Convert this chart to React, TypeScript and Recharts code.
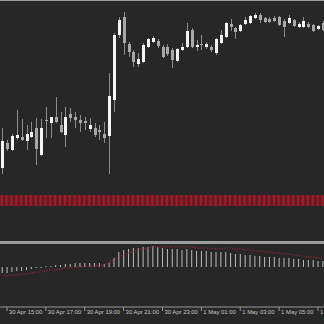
import { Bar, BarChart, ComposedChart, Line, XAxis, YAxis } from "recharts";

// 15-minute candles, 30 Apr 14:45 .. 1 May 07:15 (price in points)
const opens = [
  32, 57, 50, 62, 63, 59, 63, 72, 45, 80, 77, 83, 75, 65, 86, 83, 80, 79, 71, 72, 70, 66,
  64, 100, 165, 183, 156, 148, 136, 138, 153, 158, 159, 153, 153, 150, 139, 150, 153, 170,
  153, 156, 153, 153, 147, 157, 163, 176, 172, 169, 176, 177, 182, 185, 182, 181, 182, 183,
  179, 177, 180, 173, 173, 176, 175, 171, 177,
];
const highs = [
  72, 60, 66, 90, 81, 75, 78, 82, 81, 93, 83, 103, 88, 93, 92, 88, 85, 83, 82, 77, 75, 78,
  127, 167, 183, 188, 158, 150, 147, 157, 162, 164, 161, 155, 156, 152, 152, 157, 177, 172,
  160, 165, 158, 155, 162, 170, 178, 181, 173, 176, 183, 185, 187, 187, 183, 183, 184, 184,
  181, 185, 181, 178, 183, 178, 176, 175, 179,
];
const lows = [
  26, 49, 49, 60, 59, 50, 62, 35, 44, 62, 62, 77, 67, 53, 78, 72, 68, 70, 68, 63, 60, 57,
  26, 88, 162, 145, 143, 133, 133, 137, 152, 157, 152, 142, 144, 132, 138, 149, 152, 152,
  149, 150, 151, 148, 145, 156, 162, 169, 161, 168, 175, 176, 181, 177, 177, 177, 178, 174,
  163, 176, 173, 172, 172, 172, 168, 170, 169,
];
const closes = [
  59, 51, 64, 65, 60, 66, 68, 51, 72, 79, 83, 78, 68, 83, 82, 80, 77, 77, 75, 65, 68, 62,
  104, 165, 180, 157, 148, 138, 141, 155, 161, 162, 154, 143, 146, 140, 151, 153, 169, 153,
  155, 155, 156, 150, 161, 165, 177, 173, 168, 175, 180, 184, 185, 180, 178, 178, 179, 175,
  173, 182, 174, 176, 179, 173, 169, 174, 170,
];

// oscillator pane
const histogram = [
  -6, -6, -5, -4, -4, -3, -2, -1, -1, 1, 1, 2, 2, 3, 3, 4, 4, 4, 4, 4, 4, 3,
  4, 9, 15, 17, 18, 19, 19, 20, 20, 21, 20, 19, 18, 18, 18, 17, 18, 17,
  16, 16, 16, 15, 15, 15, 15, 14, 13, 13, 12, 12, 11, 11, 10, 10, 10, 9,
  9, 9, 8, 8, 7, 7, 7, 6, 6,
];
const signal = [
  -9, -9, -8, -8, -7, -7, -6, -5, -5, -4, -3, -3, -2, -1, -1, 0, 0, 1, 1, 1, 2, 2,
  5, 7, 10, 12, 14, 16, 17, 18, 19, 20, 20, 20, 20, 20, 20, 20, 20, 20,
  19, 19, 19, 19, 18, 18, 19, 19, 18, 18, 17, 17, 16, 16, 15, 15, 14, 14,
  13, 13, 12, 11, 11, 10, 10, 9, 9,
];

// red strip under the price pane
const band = [
  1, 1, 1, 1, 1, 1, 1, 1, 1, 1, 1, 1, 1, 1, 1, 1, 1, 1, 1, 1, 1, 1,
  1, 1, 1, 1, 1, 1, 1, 1, 1, 1, 1, 1, 1, 1, 1, 1, 1, 1, 1, 1, 1, 1,
  1, 1, 1, 1, 1, 1, 1, 1, 1, 1, 1, 1, 1, 1, 1, 1, 1, 1, 1, 1, 1, 1, 1,
];

const tickIndex = [1, 9, 17, 25, 33, 41, 49, 57, 65];
const tickLabels = [
  "30 Apr 15:00",
  "30 Apr 17:00",
  "30 Apr 19:00",
  "30 Apr 21:00",
  "30 Apr 23:00",
  "1 May 01:00",
  "1 May 03:00",
  "1 May 05:00",
  "1 May 07:00",
];

const W = 324;
const X_DOMAIN: [number, number] = [-0.44, 66.24];
const BG = "#272727";

const rows = opens.map((open, i) => ({
  i,
  open,
  high: highs[i],
  low: lows[i],
  close: closes[i],
  hist: histogram[i],
  signal: signal[i],
  band: band[i],
}));

function Candle(props: any) {
  const { x, y, width, height, payload } = props;
  const { open, close, high, low } = payload;
  const unit = height / (high - low);
  const cx = Math.round(x + width / 2) + 0.5;
  const top = y + (high - Math.max(open, close)) * unit;
  const bodyH = Math.max(1, Math.abs(open - close) * unit);
  const bull = close >= open;
  return (
    <g>
      <line x1={cx} x2={cx} y1={y} y2={y + height} stroke="#8c8c8c" />
      <rect x={cx - 1.5} y={top} width={3} height={bodyH} fill={bull ? "#f4f4f4" : "#a8a8a8"} />
    </g>
  );
}

function TimeTick(props: any) {
  const { x, y, payload } = props;
  const label = tickLabels[tickIndex.indexOf(payload.value)];
  return (
    <text x={x + 2} y={y + 3} fontSize={5.9} fill="#c6c6c6" fontFamily="Liberation Sans, Arial, sans-serif">
      {label}
    </text>
  );
}

const noMargin = { top: 0, right: 0, bottom: 0, left: 0 };

export default function App() {
  return (
    <div style={{ position: "absolute", left: 0, top: 0, width: W, height: 324, background: BG, overflow: "hidden" }}>
      <div style={{ position: "absolute", left: 0, top: 0, width: W, height: 1, background: "#9a9a9a" }} />

      <div style={{ position: "absolute", left: 0, top: 0 }}>
        <ComposedChart width={W} height={195} data={rows} margin={noMargin}>
          <XAxis type="number" dataKey="i" domain={X_DOMAIN} hide allowDataOverflow />
          <YAxis domain={[5, 200]} hide allowDataOverflow />
          <Bar
            dataKey={(d: any) => [d.low, d.high]}
            barSize={3}
            shape={<Candle />}
            isAnimationActive={false}
          />
        </ComposedChart>
      </div>

      <div style={{ position: "absolute", left: 0, top: 195, width: W, height: 11, background: "#661a24" }}>
        <BarChart width={W} height={11} data={rows} margin={noMargin}>
          <XAxis type="number" dataKey="i" domain={X_DOMAIN} hide allowDataOverflow />
          <YAxis domain={[0, 1]} hide />
          <Bar dataKey="band" barSize={2} fill="#9e1e2c" isAnimationActive={false} />
        </BarChart>
      </div>

      <div style={{ position: "absolute", left: 0, top: 241, width: W, height: 3, background: "#9c9c9c" }} />

      <div style={{ position: "absolute", left: 0, top: 244 }}>
        <ComposedChart width={W} height={80} data={rows} margin={noMargin}>
          <XAxis
            type="number"
            dataKey="i"
            domain={X_DOMAIN}
            ticks={tickIndex}
            interval={0}
            height={17}
            tickSize={4}
            tickMargin={0}
            axisLine={{ stroke: "#9a9a9a" }}
            tickLine={{ stroke: "#9a9a9a" }}
            tick={<TimeTick />}
            allowDataOverflow
          />
          <YAxis domain={[-40, 23]} hide allowDataOverflow />
          <Bar dataKey="hist" barSize={1} fill="#bdbdbd" isAnimationActive={false} />
          <Line
            dataKey="signal"
            stroke="#b0283a"
            strokeWidth={1.2}
            strokeDasharray="1 1.5"
            dot={false}
            isAnimationActive={false}
          />
        </ComposedChart>
      </div>
    </div>
  );
}
